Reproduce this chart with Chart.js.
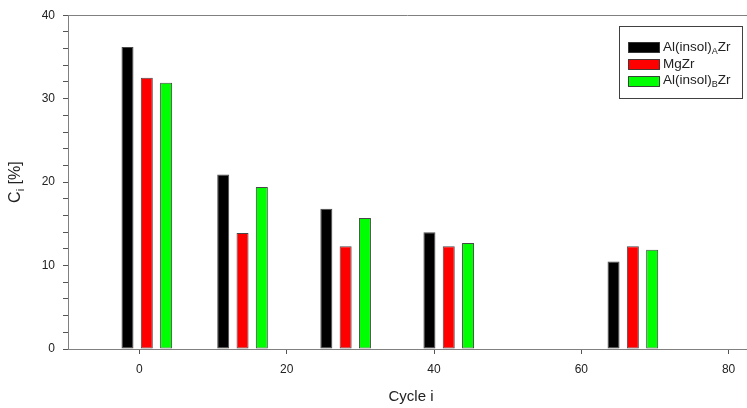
<!DOCTYPE html>
<html>
<head>
<meta charset="utf-8">
<script src="https://cdn.jsdelivr.net/npm/chart.js@4.4.1/dist/chart.umd.min.js"></script>
<style>
  html, body { margin: 0; padding: 0; background: #ffffff; }
  #wrap { width: 747px; height: 408px; position: relative; }
</style>
</head>
<body>
<div id="wrap"><canvas id="chart" width="747" height="408"></canvas></div>
<script>
// Cycle number of each bar group
const cycles = [1, 14, 28, 42, 67];

// C_i [%] per series
const alInsolA = [36.2, 20.9, 16.8, 14.0, 10.5];
const mgZr     = [32.5, 13.9, 12.3, 12.3, 12.3];
const alInsolB = [31.9, 19.4, 15.7, 12.7, 11.9];

// Series names, split into normal / subscript runs
const seriesLabels = [
  [{ t: 'Al(insol)' }, { t: 'A', sub: true }, { t: 'Zr' }],
  [{ t: 'MgZr' }],
  [{ t: 'Al(insol)' }, { t: 'B', sub: true }, { t: 'Zr' }]
];
const seriesColors = ['#000000', '#ff0000', '#00ff00'];

// Tick values: labelled x ticks, labelled y ticks, minor y tick step
const xTickValues = [0, 20, 40, 60, 80];
const yTickValues = [0, 10, 20, 30, 40];
const yMinorStep = 2;

const xTitle = [{ t: 'Cycle i' }];
const yTitle = [{ t: 'C' }, { t: 'i', sub: true }, { t: ' [%]' }];

const FONT = "'Liberation Sans', Arial, sans-serif";
const AXIS_COLOR = '#808080';
const TEXT_COLOR = '#222222';
const EDGE_COLOR = 'rgba(40,40,40,0.85)';

const plain = parts => parts.map(p => p.t).join('');

function makeSeries(values, idx) {
  return {
    label: plain(seriesLabels[idx]),
    data: cycles.map((c, i) => ({ x: c, y: values[i] })),
    backgroundColor: seriesColors[idx],
    borderColor: EDGE_COLOR,
    borderWidth: 1,
    borderSkipped: false,
    categoryPercentage: 0.605,
    barPercentage: 0.622
  };
}

// Text runs with subscripts
function richWidth(ctx, parts, size) {
  let w = 0;
  for (const p of parts) {
    ctx.font = (p.sub ? Math.round(size * 0.68) : size) + 'px ' + FONT;
    w += ctx.measureText(p.t).width;
  }
  return w;
}
function drawRich(ctx, parts, x, y, size) {
  let cx = x;
  for (const p of parts) {
    const s = p.sub ? Math.round(size * 0.68) : size;
    ctx.font = s + 'px ' + FONT;
    ctx.fillText(p.t, cx, p.sub ? y + size * 0.32 : y);
    cx += ctx.measureText(p.t).width;
  }
}

const decorPlugin = {
  id: 'decor',
  afterDraw(chart) {
    const { ctx, chartArea: a } = chart;
    ctx.save();

    // top frame line
    ctx.strokeStyle = AXIS_COLOR;
    ctx.lineWidth = 1;
    ctx.beginPath();
    ctx.moveTo(a.left, Math.round(a.top) + 0.5);
    ctx.lineTo(a.right, Math.round(a.top) + 0.5);
    ctx.stroke();

    ctx.fillStyle = TEXT_COLOR;
    ctx.textBaseline = 'middle';
    ctx.textAlign = 'left';

    // x axis title
    const xs = 15;
    const xw = richWidth(ctx, xTitle, xs);
    drawRich(ctx, xTitle, 411 - xw / 2, a.bottom + 47.5, xs);

    // y axis title (rotated)
    const ys = 16;
    ctx.save();
    ctx.translate(16, (a.top + a.bottom) / 2);
    ctx.rotate(-Math.PI / 2);
    const yw = richWidth(ctx, yTitle, ys);
    drawRich(ctx, yTitle, -yw / 2, 0, ys);
    ctx.restore();

    // legend box
    const lx = 619.5, ly = 26.5, lw = 123, lh = 72;
    ctx.fillStyle = '#ffffff';
    ctx.fillRect(lx, ly, lw, lh);
    ctx.strokeStyle = '#404040';
    ctx.strokeRect(lx, ly, lw, lh);
    const rows = [47.3, 63.8, 80.5];
    chart.data.datasets.forEach((ds, i) => {
      const cy = rows[i];
      ctx.fillStyle = ds.backgroundColor;
      ctx.fillRect(628.5, Math.round(cy - 5) + 0.5, 31, 10);
      ctx.strokeStyle = EDGE_COLOR;
      ctx.strokeRect(628.5, Math.round(cy - 5) + 0.5, 31, 10);
      ctx.fillStyle = TEXT_COLOR;
      drawRich(ctx, seriesLabels[i], 663, cy, 13.5);
    });

    ctx.restore();
  }
};

new Chart(document.getElementById('chart'), {
  type: 'bar',
  data: {
    datasets: [
      makeSeries(alInsolA, 0),
      makeSeries(mgZr, 1),
      makeSeries(alInsolB, 2)
    ]
  },
  options: {
    responsive: false,
    animation: false,
    devicePixelRatio: 1,
    layout: { padding: { top: 13, left: 0, right: 0, bottom: 0 } },
    plugins: {
      legend: { display: false },
      tooltip: { enabled: false }
    },
    scales: {
      x: {
        type: 'linear',
        min: -9.7,
        max: 82.5,
        offset: false,
        afterBuildTicks: scale => {
          scale.ticks = xTickValues.map(v => ({ value: v }));
        },
        grid: {
          offset: false,
          drawOnChartArea: false,
          drawTicks: true,
          tickLength: 5,
          color: '#555555'
        },
        border: { display: true, color: AXIS_COLOR, width: 1 },
        ticks: {
          autoSkip: false,
          maxRotation: 0,
          padding: 8,
          color: TEXT_COLOR,
          font: { family: FONT, size: 12 }
        },
        afterFit: scale => { scale.height = 59; }
      },
      y: {
        type: 'linear',
        min: 0,
        max: 40,
        grid: {
          drawOnChartArea: false,
          drawTicks: true,
          tickLength: 5,
          color: '#555555'
        },
        border: { display: true, color: AXIS_COLOR, width: 1 },
        ticks: {
          stepSize: yMinorStep,
          autoSkip: false,
          padding: 8,
          color: TEXT_COLOR,
          font: { family: FONT, size: 12 },
          callback: v => (yTickValues.includes(v) ? String(v) : '')
        },
        afterFit: scale => { scale.width = 68; }
      }
    }
  },
  plugins: [decorPlugin]
});
</script>
</body>
</html>
